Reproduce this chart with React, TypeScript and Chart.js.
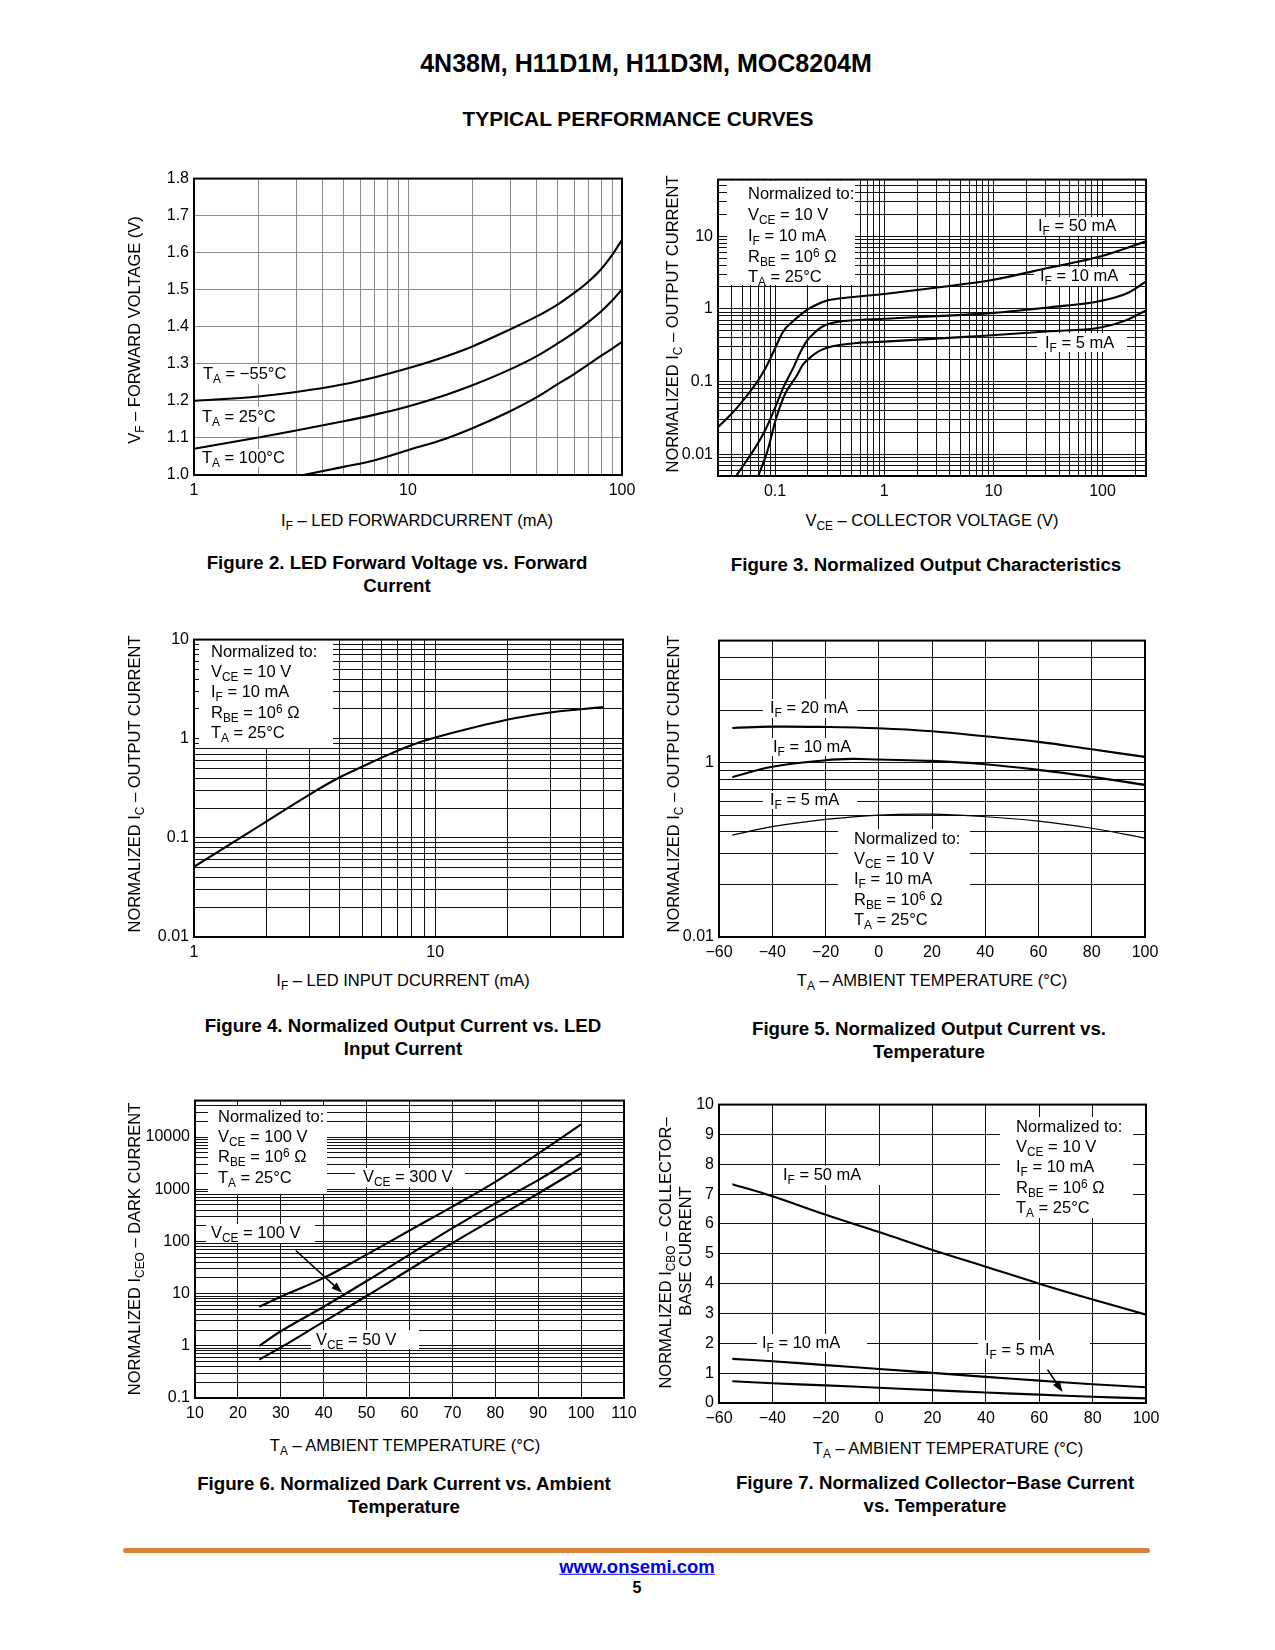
import React, { useEffect, useRef } from 'react';
import { Chart, registerables } from 'chart.js';

Chart.register(...registerables);

const FONT = '"Liberation Sans", Arial, Helvetica, sans-serif';

// ---------------- Figure 2 : LED forward voltage vs forward current
const fig2Current = [1, 2, 3, 5, 7, 10, 15, 20, 30, 40, 50, 60, 70, 80, 90, 100];
const fig2VfMinus55 = [1.2, 1.212, 1.224, 1.245, 1.264, 1.288, 1.32, 1.347, 1.393, 1.428, 1.46, 1.492, 1.523, 1.556, 1.594, 1.635];
const fig2Vf25 = [1.071, 1.101, 1.12, 1.145, 1.163, 1.185, 1.216, 1.242, 1.285, 1.321, 1.355, 1.385, 1.414, 1.442, 1.471, 1.501];
const fig2Current100 = [3.25, 5, 7, 10, 15, 20, 30, 40, 50, 60, 70, 80, 90, 100];
const fig2Vf100 = [1.0, 1.022, 1.04, 1.067, 1.098, 1.126, 1.172, 1.21, 1.245, 1.273, 1.299, 1.322, 1.341, 1.359];
const fig2YTicks = [1.0, 1.1, 1.2, 1.3, 1.4, 1.5, 1.6, 1.7, 1.8];
const fig2YLabels = ['1.0', '1.1', '1.2', '1.3', '1.4', '1.5', '1.6', '1.7', '1.8'];
const fig2XLabelValues = [1, 10, 100];
const fig2XLabels = ['1', '10', '100'];

// ---------------- Figure 3 : normalized output characteristics
const fig3V50 = [0.03, 0.04, 0.051, 0.068, 0.083, 0.096, 0.119, 0.147, 0.18, 0.21, 0.3, 0.49, 1.0, 2.8, 10, 33, 93, 250];
const fig3I50 = [0.0236, 0.036, 0.055, 0.097, 0.16, 0.25, 0.49, 0.68, 0.88, 1.03, 1.3, 1.44, 1.6, 1.93, 2.51, 3.7, 5.2, 8.5];
const fig3V10 = [0.044, 0.056, 0.068, 0.082, 0.096, 0.12, 0.147, 0.17, 0.195, 0.23, 0.277, 0.35, 0.49, 1.0, 10, 33, 93, 170, 250];
const fig3I10 = [0.005, 0.0085, 0.0133, 0.022, 0.0376, 0.085, 0.155, 0.25, 0.36, 0.47, 0.58, 0.65, 0.69, 0.73, 0.88, 1.05, 1.27, 1.65, 2.38];
const fig3V5 = [0.07, 0.085, 0.103, 0.125, 0.158, 0.18, 0.209, 0.25, 0.3, 0.6, 1.0, 7.1, 33, 93, 157, 250];
const fig3I5 = [0.005, 0.011, 0.0323, 0.07, 0.12, 0.17, 0.213, 0.26, 0.292, 0.342, 0.353, 0.42, 0.49, 0.55, 0.677, 0.947];
const fig3XLabelValues = [0.1, 1, 10, 100];
const fig3XLabels = ['0.1', '1', '10', '100'];
const fig3YLabelValues = [0.01, 0.1, 1, 10];
const fig3YLabels = ['0.01', '0.1', '1', '10'];

// ---------------- Figure 4 : normalized output current vs LED input current
const fig4If = [1, 2, 3, 4, 5, 6, 8, 10, 20, 30, 40, 50];
const fig4Ic = [0.051, 0.147, 0.272, 0.406, 0.524, 0.645, 0.864, 1.03, 1.56, 1.84, 1.98, 2.09];
const fig4XLabelValues = [1, 10];
const fig4XLabels = ['1', '10'];
const fig4YLabelValues = [0.01, 0.1, 1, 10];
const fig4YLabels = ['0.01', '0.1', '1', '10'];

// ---------------- Figure 5 : normalized output current vs temperature
const fig5Temp = [-55, -40, -20, 0, 20, 40, 60, 80, 100];
const fig5I20 = [1.578, 1.606, 1.599, 1.571, 1.51, 1.414, 1.313, 1.191, 1.077];
const fig5Temp10 = [-55, -40, -20, -10, 0, 20, 40, 60, 80, 100];
const fig5I10 = [0.824, 0.945, 1.031, 1.049, 1.04, 1.022, 0.978, 0.908, 0.828, 0.745];
const fig5I5 = [0.384, 0.429, 0.472, 0.5, 0.506, 0.489, 0.462, 0.42, 0.369];
const fig5XTicks = [-60, -40, -20, 0, 20, 40, 60, 80, 100];
const fig5XLabels = ['\u221260', '\u221240', '\u221220', '0', '20', '40', '60', '80', '100'];
const fig5YLabelValues = [0.1, 1];
const fig5YLabels = ['0.01', '1'];

// ---------------- Figure 6 : normalized dark current vs ambient temperature
const fig6Temp = [25, 30, 40, 50, 60, 70, 80, 90, 100];
const fig6V300 = [5.6, 8.7, 20, 56, 162, 465, 1390, 4800, 17500];
const fig6V100 = [1.0, 1.9, 5.6, 17.4, 56, 180, 537, 1500, 4800];
const fig6V50 = [0.545, 0.93, 2.9, 9, 29, 93, 279, 830, 2580];
const fig6XTicks = [10, 20, 30, 40, 50, 60, 70, 80, 90, 100, 110];
const fig6XLabels = ['10', '20', '30', '40', '50', '60', '70', '80', '90', '100', '110'];
const fig6YLabelValues = [0.1, 1, 10, 100, 1000, 10000];
const fig6YLabels = ['0.1', '1', '10', '100', '1000', '10000'];
const fig6ArrowFrom = [33.5, 67];
const fig6ArrowTo = [44.3, 10.4];

// ---------------- Figure 7 : normalized collector-base current vs temperature
const fig7Temp = [-55, -40, -20, 0, 20, 40, 60, 80, 100];
const fig7I50 = [7.33, 6.93, 6.31, 5.73, 5.13, 4.57, 4.0, 3.47, 2.96];
const fig7I10 = [1.48, 1.4, 1.27, 1.14, 1.01, 0.875, 0.75, 0.63, 0.53];
const fig7I5 = [0.73, 0.66, 0.59, 0.51, 0.43, 0.35, 0.28, 0.21, 0.155];
const fig7XTicks = [-60, -40, -20, 0, 20, 40, 60, 80, 100];
const fig7XLabels = ['\u221260', '\u221240', '\u221220', '0', '20', '40', '60', '80', '100'];
const fig7YTicks = [0, 1, 2, 3, 4, 5, 6, 7, 8, 9, 10];
const fig7YLabels = ['0', '1', '2', '3', '4', '5', '6', '7', '8', '9', '10'];
const fig7ArrowFrom = [63.1, 1.12];
const fig7ArrowTo = [68.7, 0.37];

// ---------------- helpers
function logGrid(min: number, max: number): number[] {
  const out: number[] = [];
  for (let e = Math.floor(Math.log10(min)) - 1; e <= Math.ceil(Math.log10(max)); e++) {
    for (let m = 1; m < 10; m++) {
      const v = +(m * Math.pow(10, e)).toPrecision(6);
      if (v >= min * 0.9999 && v <= max * 1.0001) out.push(v);
    }
  }
  return out;
}
function pts(xs: number[], ys: number[]) {
  return xs.map((x, i) => ({ x, y: ys[i] }));
}
function labeler(values: number[], labels: string[]) {
  return (v: number) => {
    const i = values.findIndex((t) => Math.abs(t - v) <= Math.abs(t) * 1e-6 + 1e-9);
    return i >= 0 ? labels[i] : '';
  };
}

type Ax = { type: 'linear' | 'logarithmic'; min: number; max: number; grid: number[]; label: (v: number) => string };
type Series = { xs: number[]; ys: number[]; width?: number; mono?: boolean };
type Arrow = { from: number[]; to: number[] };
type Spec = {
  rect: [number, number, number, number];
  x: Ax;
  y: Ax;
  series: Series[];
  gridColor: string;
  masks: number[][];
  arrows?: Arrow[];
};

const PAD_L = 62;
const PAD_T = 12;
const PAD_R = 30;
const PAD_B = 32;

function axisOptions(ax: Ax, isX: boolean, gridColor: string) {
  return {
    type: ax.type,
    min: ax.min,
    max: ax.max,
    afterBuildTicks: (s: any) => {
      s.ticks = ax.grid.map((v) => ({ value: v }));
    },
    afterFit: (s: any) => {
      if (isX) s.height = PAD_B;
      else s.width = PAD_L;
    },
    grid: { color: gridColor, lineWidth: 1, drawTicks: false },
    border: { display: false },
    ticks: {
      autoSkip: false,
      maxRotation: 0,
      minRotation: 0,
      padding: isX ? 6 : 5,
      color: '#000',
      font: { family: FONT, size: 16 },
      callback: (v: any) => ax.label(Number(v)),
    },
  };
}

function ChartBox({ spec }: { spec: Spec }) {
  const ref = useRef<HTMLCanvasElement>(null);
  const [L, T, W, H] = spec.rect;
  const cw = W + PAD_L + PAD_R;
  const ch = H + PAD_T + PAD_B;
  useEffect(() => {
    const ox = L - PAD_L;
    const oy = T - PAD_T;
    const plugin = {
      id: 'frameMasks',
      beforeDatasetsDraw(chart: any) {
        const { ctx, chartArea: a } = chart;
        ctx.save();
        ctx.beginPath();
        ctx.rect(a.left + 1, a.top + 1, a.right - a.left - 2, a.bottom - a.top - 2);
        ctx.clip();
        ctx.fillStyle = '#fff';
        spec.masks.forEach(([x0, y0, x1, y1]) => ctx.fillRect(x0 - ox, y0 - oy, x1 - x0, y1 - y0));
        ctx.restore();
      },
      afterDatasetsDraw(chart: any) {
        const { ctx, chartArea: a, scales } = chart;
        ctx.save();
        ctx.strokeStyle = '#000';
        ctx.lineWidth = 2;
        ctx.strokeRect(a.left, a.top, a.right - a.left, a.bottom - a.top);
        ctx.fillStyle = '#000';
        (spec.arrows || []).forEach((ar) => {
          const x1 = scales.x.getPixelForValue(ar.from[0]);
          const y1 = scales.y.getPixelForValue(ar.from[1]);
          const x2 = scales.x.getPixelForValue(ar.to[0]);
          const y2 = scales.y.getPixelForValue(ar.to[1]);
          const ang = Math.atan2(y2 - y1, x2 - x1);
          const len = 11;
          const half = 4;
          const c = Math.cos(ang);
          const s = Math.sin(ang);
          ctx.lineWidth = 1.6;
          ctx.beginPath();
          ctx.moveTo(x1, y1);
          ctx.lineTo(x2 - len * c, y2 - len * s);
          ctx.stroke();
          ctx.beginPath();
          ctx.moveTo(x2, y2);
          ctx.lineTo(x2 - len * c + half * s, y2 - len * s - half * c);
          ctx.lineTo(x2 - len * c - half * s, y2 - len * s + half * c);
          ctx.closePath();
          ctx.fill();
        });
        ctx.restore();
      },
    };
    const chart = new Chart(ref.current as HTMLCanvasElement, {
      type: 'line',
      data: {
        datasets: spec.series.map((se) => ({
          data: pts(se.xs, se.ys),
          borderColor: '#000',
          borderWidth: se.width ?? 2.1,
          pointRadius: 0,
          pointHoverRadius: 0,
          fill: false,
          tension: 0.4,
          cubicInterpolationMode: (se.mono ? 'monotone' : 'default') as any,
        })),
      },
      options: {
        animation: false,
        responsive: false,
        maintainAspectRatio: false,
        devicePixelRatio: 1,
        events: [],
        layout: { padding: { left: 0, top: PAD_T, right: PAD_R, bottom: 0 } },
        plugins: { legend: { display: false }, tooltip: { enabled: false } },
        scales: {
          x: axisOptions(spec.x, true, spec.gridColor),
          y: axisOptions(spec.y, false, spec.gridColor),
        } as any,
      },
      plugins: [plugin],
    });
    return () => chart.destroy();
  }, []);
  return (
    <canvas
      ref={ref}
      width={cw}
      height={ch}
      style={{ position: 'absolute', left: L - PAD_L, top: T - PAD_T, width: cw, height: ch }}
    />
  );
}

// ---------------- text helpers
type TP = {
  x: number;
  y: number;
  a?: 'l' | 'c';
  s?: number;
  b?: boolean;
  rot?: boolean;
  color?: string;
  u?: boolean;
  children: React.ReactNode;
};
function Txt({ x, y, a = 'l', s = 16.5, b = false, rot = false, color = '#000', u = false, children }: TP) {
  const transform = rot ? 'translate(-50%,-50%) rotate(-90deg)' : `translate(${a === 'l' ? '0' : '-50%'},-50%)`;
  return (
    <div
      style={{
        position: 'absolute',
        left: x,
        top: y,
        transform,
        whiteSpace: 'nowrap',
        fontSize: s,
        fontWeight: b ? 700 : 400,
        lineHeight: 1,
        color,
        textDecoration: u ? 'underline' : 'none',
      }}
    >
      {children}
    </div>
  );
}
const Sb = ({ t }: { t: string }) => (
  <span style={{ fontSize: '0.72em', position: 'relative', top: '0.32em' }}>{t}</span>
);
const Sp = ({ t }: { t: string }) => (
  <span style={{ fontSize: '0.72em', position: 'relative', top: '-0.42em' }}>{t}</span>
);

function NormLines({ x, ys, vce }: { x: number; ys: number[]; vce: string }) {
  const lines =
    vce === '100'
      ? [
          <>Normalized to:</>,
          <>V<Sb t="CE" /> = 100 V</>,
          <>R<Sb t="BE" /> = 10<Sp t="6" /> Ω</>,
          <>T<Sb t="A" /> = 25°C</>,
        ]
      : [
          <>Normalized to:</>,
          <>V<Sb t="CE" /> = 10 V</>,
          <>I<Sb t="F" /> = 10 mA</>,
          <>R<Sb t="BE" /> = 10<Sp t="6" /> Ω</>,
          <>T<Sb t="A" /> = 25°C</>,
        ];
  return (
    <>
      {lines.map((l, i) => (
        <Txt key={i} x={x} y={ys[i]}>
          {l}
        </Txt>
      ))}
    </>
  );
}

// ---------------- chart specs
const fig2: Spec = {
  rect: [194, 176, 428, 299],
  x: { type: 'logarithmic', min: 1, max: 100, grid: logGrid(1, 100), label: labeler(fig2XLabelValues, fig2XLabels) },
  y: { type: 'linear', min: 1.0, max: 1.8, grid: fig2YTicks, label: labeler(fig2YTicks, fig2YLabels) },
  series: [
    { xs: fig2Current, ys: fig2VfMinus55, mono: true },
    { xs: fig2Current, ys: fig2Vf25, mono: true },
    { xs: fig2Current100, ys: fig2Vf100, mono: true },
  ],
  gridColor: '#8c8c8c',
  masks: [
    [199, 364, 290, 384],
    [199, 407, 281, 427],
    [199, 449, 290, 467],
  ],
};

const fig3: Spec = {
  rect: [718, 177, 428, 299],
  x: { type: 'logarithmic', min: 0.03, max: 250, grid: logGrid(0.03, 250), label: labeler(fig3XLabelValues, fig3XLabels) },
  y: { type: 'logarithmic', min: 0.005, max: 60, grid: logGrid(0.005, 60), label: labeler(fig3YLabelValues, fig3YLabels) },
  series: [
    { xs: fig3V50, ys: fig3I50, mono: true },
    { xs: fig3V10, ys: fig3I10, mono: true },
    { xs: fig3V5, ys: fig3I5, mono: true },
  ],
  gridColor: '#111',
  masks: [
    [727, 178, 855, 285],
    [1031, 217, 1127, 236],
    [1034, 267, 1129, 286],
    [1037, 333, 1127, 352],
  ],
};

const fig4: Spec = {
  rect: [194, 637, 429, 300],
  x: { type: 'logarithmic', min: 1, max: 60, grid: logGrid(1, 60), label: labeler(fig4XLabelValues, fig4XLabels) },
  y: { type: 'logarithmic', min: 0.01, max: 10, grid: logGrid(0.01, 10), label: labeler(fig4YLabelValues, fig4YLabels) },
  series: [{ xs: fig4If, ys: fig4Ic }],
  gridColor: '#111',
  masks: [[199, 638, 333, 748]],
};

const fig5: Spec = {
  rect: [719, 638, 426, 299],
  x: { type: 'linear', min: -60, max: 100, grid: fig5XTicks, label: labeler(fig5XTicks, fig5XLabels) },
  y: { type: 'logarithmic', min: 0.1, max: 5, grid: logGrid(0.1, 5), label: labeler(fig5YLabelValues, fig5YLabels) },
  series: [
    { xs: fig5Temp, ys: fig5I20 },
    { xs: fig5Temp10, ys: fig5I10 },
    { xs: fig5Temp, ys: fig5I5, width: 1.2 },
  ],
  gridColor: '#111',
  masks: [
    [763, 699, 857, 718],
    [766, 738, 856, 756],
    [763, 791, 857, 809],
    [838, 829, 970, 936],
  ],
};

const fig6: Spec = {
  rect: [195, 1098, 429, 300],
  x: { type: 'linear', min: 10, max: 110, grid: fig6XTicks, label: labeler(fig6XTicks, fig6XLabels) },
  y: { type: 'logarithmic', min: 0.1, max: 50000, grid: logGrid(0.1, 50000), label: labeler(fig6YLabelValues, fig6YLabels) },
  series: [
    { xs: fig6Temp, ys: fig6V300 },
    { xs: fig6Temp, ys: fig6V100 },
    { xs: fig6Temp, ys: fig6V50 },
  ],
  gridColor: '#111',
  masks: [
    [208, 1106, 327, 1194],
    [355, 1168, 465, 1187],
    [206, 1224, 315, 1243],
    [311, 1330, 419, 1349],
  ],
  arrows: [{ from: fig6ArrowFrom, to: fig6ArrowTo }],
};

const fig7: Spec = {
  rect: [719, 1102, 427, 301],
  x: { type: 'linear', min: -60, max: 100, grid: fig7XTicks, label: labeler(fig7XTicks, fig7XLabels) },
  y: { type: 'linear', min: 0, max: 10, grid: fig7YTicks, label: labeler(fig7YTicks, fig7YLabels) },
  series: [
    { xs: fig7Temp, ys: fig7I50 },
    { xs: fig7Temp, ys: fig7I10 },
    { xs: fig7Temp, ys: fig7I5 },
  ],
  gridColor: '#111',
  masks: [
    [1000, 1117, 1133, 1218],
    [778, 1166, 880, 1185],
    [757, 1334, 867, 1352],
    [978, 1340, 1090, 1359],
  ],
  arrows: [{ from: fig7ArrowFrom, to: fig7ArrowTo }],
};

const CAP = 18.7;

export default function App() {
  return (
    <div
      style={{
        position: 'absolute',
        left: 0,
        top: 0,
        width: 1275,
        height: 1650,
        background: '#fff',
        fontFamily: FONT,
        color: '#000',
        overflow: 'hidden',
      }}
    >
      <ChartBox spec={fig2} />
      <ChartBox spec={fig3} />
      <ChartBox spec={fig4} />
      <ChartBox spec={fig5} />
      <ChartBox spec={fig6} />
      <ChartBox spec={fig7} />

      {/* page header */}
      <Txt x={646} y={63} a="c" s={25} b>
        4N38M, H11D1M, H11D3M, MOC8204M
      </Txt>
      <Txt x={638} y={119} a="c" s={20.9} b>
        TYPICAL PERFORMANCE CURVES
      </Txt>

      {/* Figure 2 */}
      <Txt x={134} y={330} rot>
        V<Sb t="F" /> – FORWARD VOLTAGE (V)
      </Txt>
      <Txt x={417} y={520} a="c">
        I<Sb t="F" /> – LED FORWARDCURRENT (mA)
      </Txt>
      <Txt x={203} y={373}>
        T<Sb t="A" /> = −55°C
      </Txt>
      <Txt x={202} y={416}>
        T<Sb t="A" /> = 25°C
      </Txt>
      <Txt x={202} y={457}>
        T<Sb t="A" /> = 100°C
      </Txt>
      <Txt x={397} y={563} a="c" s={CAP} b>
        Figure 2. LED Forward Voltage vs. Forward
      </Txt>
      <Txt x={397} y={586} a="c" s={CAP} b>
        Current
      </Txt>

      {/* Figure 3 */}
      <Txt x={672} y={324} rot>
        NORMALIZED I<Sb t="C" /> – OUTPUT CURRENT
      </Txt>
      <Txt x={932} y={520} a="c">
        V<Sb t="CE" /> – COLLECTOR VOLTAGE (V)
      </Txt>
      <NormLines x={748} ys={[193, 214, 235, 256, 276]} vce="10" />
      <Txt x={1038} y={225}>
        I<Sb t="F" /> = 50 mA
      </Txt>
      <Txt x={1040} y={275}>
        I<Sb t="F" /> = 10 mA
      </Txt>
      <Txt x={1045} y={342}>
        I<Sb t="F" /> = 5 mA
      </Txt>
      <Txt x={926} y={565} a="c" s={CAP} b>
        Figure 3. Normalized Output Characteristics
      </Txt>

      {/* Figure 4 */}
      <Txt x={134} y={784} rot>
        NORMALIZED I<Sb t="C" /> – OUTPUT CURRENT
      </Txt>
      <Txt x={403} y={980} a="c">
        I<Sb t="F" /> – LED INPUT DCURRENT (mA)
      </Txt>
      <NormLines x={211} ys={[651, 671, 691, 712, 732]} vce="10" />
      <Txt x={403} y={1026} a="c" s={CAP} b>
        Figure 4. Normalized Output Current vs. LED
      </Txt>
      <Txt x={403} y={1049} a="c" s={CAP} b>
        Input Current
      </Txt>

      {/* Figure 5 */}
      <Txt x={673} y={784} rot>
        NORMALIZED I<Sb t="C" /> – OUTPUT CURRENT
      </Txt>
      <Txt x={932} y={980} a="c">
        T<Sb t="A" /> – AMBIENT TEMPERATURE (°C)
      </Txt>
      <Txt x={770} y={707}>
        I<Sb t="F" /> = 20 mA
      </Txt>
      <Txt x={773} y={746}>
        I<Sb t="F" /> = 10 mA
      </Txt>
      <Txt x={770} y={799}>
        I<Sb t="F" /> = 5 mA
      </Txt>
      <NormLines x={854} ys={[838, 858, 878, 899, 919]} vce="10" />
      <Txt x={929} y={1029} a="c" s={CAP} b>
        Figure 5. Normalized Output Current vs.
      </Txt>
      <Txt x={929} y={1052} a="c" s={CAP} b>
        Temperature
      </Txt>

      {/* Figure 6 */}
      <Txt x={134} y={1249} rot>
        NORMALIZED I<Sb t="CEO" /> – DARK CURRENT
      </Txt>
      <Txt x={405} y={1445} a="c">
        T<Sb t="A" /> – AMBIENT TEMPERATURE (°C)
      </Txt>
      <NormLines x={218} ys={[1116, 1136, 1156, 1177]} vce="100" />
      <Txt x={363} y={1176}>
        V<Sb t="CE" /> = 300 V
      </Txt>
      <Txt x={211} y={1232}>
        V<Sb t="CE" /> = 100 V
      </Txt>
      <Txt x={316} y={1339}>
        V<Sb t="CE" /> = 50 V
      </Txt>
      <Txt x={404} y={1484} a="c" s={CAP} b>
        Figure 6. Normalized Dark Current vs. Ambient
      </Txt>
      <Txt x={404} y={1507} a="c" s={CAP} b>
        Temperature
      </Txt>

      {/* Figure 7 */}
      <Txt x={665} y={1253} rot>
        NORMALIZED I<Sb t="CBO" /> – COLLECTOR–
      </Txt>
      <Txt x={685} y={1251} rot>
        BASE CURRENT
      </Txt>
      <Txt x={948} y={1448} a="c">
        T<Sb t="A" /> – AMBIENT TEMPERATURE (°C)
      </Txt>
      <Txt x={783} y={1174}>
        I<Sb t="F" /> = 50 mA
      </Txt>
      <Txt x={762} y={1342}>
        I<Sb t="F" /> = 10 mA
      </Txt>
      <Txt x={985} y={1349}>
        I<Sb t="F" /> = 5 mA
      </Txt>
      <NormLines x={1016} ys={[1126, 1146, 1166, 1187, 1207]} vce="10" />
      <Txt x={935} y={1483} a="c" s={CAP} b>
        Figure 7. Normalized Collector−Base Current
      </Txt>
      <Txt x={935} y={1506} a="c" s={CAP} b>
        vs. Temperature
      </Txt>

      {/* footer */}
      <div
        style={{
          position: 'absolute',
          left: 123,
          top: 1548,
          width: 1027,
          height: 5,
          background: '#D9823B',
          borderRadius: 3,
        }}
      />
      <Txt x={637} y={1567} a="c" s={18.5} b color="#0000EE" u>
        www.onsemi.com
      </Txt>
      <Txt x={637} y={1588} a="c" s={16} b>
        5
      </Txt>
    </div>
  );
}
